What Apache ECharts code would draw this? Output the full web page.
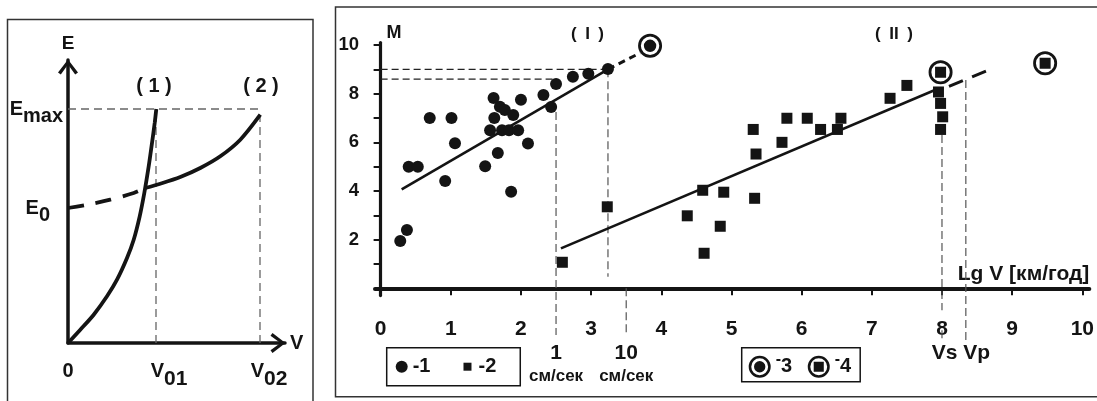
<!DOCTYPE html>
<html><head><meta charset="utf-8">
<script src="https://cdn.jsdelivr.net/npm/echarts@6/dist/echarts.min.js"></script>
<style>html,body{margin:0;padding:0;background:#fff}#c{width:1097px;height:401px}</style>
</head><body><div id="c"></div>
<script>
// ---------- Left panel: schematic E(V) ----------
const leftTickX = [0, 88, 192];            // 0, V01, V02
const leftTickY = [135, 234];              // E0, Emax
const curve1 = [[0,0],[12.3,13.3],[25.7,28.3],[39,46.7],[49,63.3],[59,85],[65.7,103.3],[71.7,126.7],[76.3,150],[80.7,176.7],[84,200],[86.7,220],[88.3,234]];
const curve2Dashed = [[0,135],[19,138.3],[42.3,143.3],[65.7,150],[77.3,155]];
const curve2Solid = [[77.3,155],[92.3,159.3],[112.3,166],[132.3,175],[152.3,186.7],[172.3,203.3],[192.3,228.3]];
const leftGuides = [[[0,234],[192,234]], [[88,0],[88,234]], [[192,0],[192,228]]];

// ---------- Right panel: M vs Lg V ----------
const xTicks = [0,1,2,3,4,5,6,7,8,9,10];
const yTicks = [1,2,3,4,5,6,7,8,9,10];
const yTickLabels = [2,4,6,8,10];
const unitMarks = [2.5, 3.5, 8.0];         // 1 см/сек, 10 см/сек, Vs Vp
const circles = [[0.28,1.94],[0.375,2.40],[0.40,5.0],[0.53,5.0],[0.70,7.0],[0.92,4.41],[1.01,7.0],[1.06,5.96],[1.49,5.02],[1.56,6.5],[1.61,7.82],[1.62,7.0],[1.67,5.56],[1.70,7.46],[1.77,7.33],[1.73,6.5],[1.83,6.5],[1.96,6.5],[1.86,3.97],[1.89,7.12],[2.0,7.75],[2.10,5.95],[2.32,7.95],[2.43,7.45],[2.50,8.40],[2.74,8.70],[2.96,8.82],[3.24,9.01]];
const squares = [[2.59,1.07],[3.23,3.35],[4.37,2.98],[4.59,4.03],[4.61,1.44],[4.84,2.55],[4.89,3.95],[5.31,6.53],[5.33,3.70],[5.35,5.52],[5.72,6.0],[5.79,6.99],[6.08,6.99],[6.27,6.53],[6.51,6.53],[6.56,6.99],[7.26,7.81],[7.50,8.34],[7.95,8.07],[7.98,7.6],[8.01,7.05],[7.98,6.53]];
const ringDot = [[3.84,9.97]];
const ringSquare = [[7.98,8.88],[9.47,9.25]];
const trendI = [[0.30,4.07],[3.24,9.0]];
const trendIExt = [[3.24,9.0],[3.70,9.68]];
const trendII = [[2.57,1.64],[7.90,8.15]];
const trendIIExt = [[8.10,8.30],[8.72,9.04]];
const guidesH = [[[0,9.0],[3.24,9.0]], [[0,8.6],[2.45,8.6]]];
const guidesV = [[[3.24,9.0],[3.24,0.48]], [[2.5,7.25],[2.5,-1.92]], [[3.5,0],[3.5,-1.92]], [[8.0,6.3],[8.0,-0.9]], [[8.0,-1.72],[8.0,-2.12]], [[8.34,8.56],[8.34,-2.12]]];

const INK = '#141414';
const FONT = '"Liberation Sans", Arial, sans-serif';
const B = {fontFamily: FONT, fontWeight: 'bold', color: INK};
const ARROW = 'path://M0,13 L10,0 L20,13 L17.2,15 L10,5 L2.8,15 Z';
const RING_DOT = 'path://M12,0 A12,12 0 1,1 12,24 A12,12 0 1,1 12,0 Z M12,2.8 A9.2,9.2 0 1,0 12,21.2 A9.2,9.2 0 1,0 12,2.8 Z M12,5.8 A6.2,6.2 0 1,1 12,18.2 A6.2,6.2 0 1,1 12,5.8 Z';
const RING_SQ = 'path://M12,0 A12,12 0 1,1 12,24 A12,12 0 1,1 12,0 Z M12,2.8 A9.2,9.2 0 1,0 12,21.2 A9.2,9.2 0 1,0 12,2.8 Z M6.5,6.5 L17.5,6.5 L17.5,17.5 L6.5,17.5 Z';
const SMALL_SQ = 'path://M0,0 M12,12 M2,2 L10,2 L10,10 L2,10 Z';
const MARK = {color: INK, opacity: 1};

function line(data, xi, yi, style, z, extra) {
  return Object.assign({type: 'line', xAxisIndex: xi, yAxisIndex: yi, data: data, symbol: 'none',
    lineStyle: style, z: z, silent: true, clip: false, animation: false}, extra || {});
}

const series = [];
leftGuides.forEach(g => series.push(line(g, 0, 0, {color: '#666', width: 1.3, type: [8, 5]}, 1)));
series.push(line(curve1, 0, 0, {color: INK, width: 3.8}, 3, {smooth: 0.3}));
series.push(line(curve2Dashed, 0, 0, {color: INK, width: 3.8, type: [16, 12]}, 3, {smooth: 0.3}));
series.push(line(curve2Solid, 0, 0, {color: INK, width: 3.8}, 3, {smooth: 0.3}));

guidesH.forEach(g => series.push(line(g, 1, 1, {color: '#222', width: 1.1, type: [7, 4]}, 1)));
guidesV.forEach(g => series.push(line(g, 1, 1, {color: '#555', width: 1.2, type: [8, 4]}, 1)));
series.push(line(trendI, 1, 1, {color: INK, width: 2.6}, 2));
series.push(line(trendIExt, 1, 1, {color: INK, width: 3, type: [7, 5]}, 2));
series.push(line(trendII, 1, 1, {color: INK, width: 2.6}, 2));
series.push(line(trendIIExt, 1, 1, {color: INK, width: 3, type: [15, 10]}, 2));

series.push({name: '1', type: 'scatter', xAxisIndex: 1, yAxisIndex: 1, data: circles, symbol: 'circle', symbolSize: 12, itemStyle: MARK, z: 5, silent: true});
series.push({name: '2', type: 'scatter', xAxisIndex: 1, yAxisIndex: 1, data: squares, symbol: 'rect', symbolSize: 11, itemStyle: MARK, z: 5, silent: true});
series.push({name: '3', type: 'scatter', xAxisIndex: 1, yAxisIndex: 1, data: ringDot, symbol: RING_DOT, symbolSize: 24, itemStyle: MARK, z: 5, silent: true});
series.push({name: '4', type: 'scatter', xAxisIndex: 1, yAxisIndex: 1, data: ringSquare, symbol: RING_SQ, symbolSize: 24, itemStyle: MARK, z: 5, silent: true});

function tok(size, pad, extra) { return Object.assign({fontSize: size, fontFamily: FONT, fontWeight: 'bold', color: INK, padding: pad || 0}, extra || {}); }

const option = {
  animation: false,
  backgroundColor: '#fff',
  textStyle: {fontFamily: FONT, fontWeight: 'bold', color: INK},
  grid: [
    {left: 68, top: 60, width: 217, height: 283},
    {left: 375, top: 42.6, width: 723.1, height: 253}
  ],
  xAxis: [
    {gridIndex: 0, type: 'value', min: 0, max: 217, splitLine: {show: false},
     axisLine: {show: true, lineStyle: {color: INK, width: 3.5}, symbol: ['none', ARROW], symbolSize: [20, 16], symbolOffset: [0, -7]},
     axisTick: {show: false},
     axisLabel: {customValues: leftTickX, margin: 10,
       formatter: v => v === leftTickX[0] ? '{n|0}' : (v === leftTickX[1] ? '{v1|V}{s|01}' : '{v2|V}{s|02}'),
       rich: {n: tok(20, [8, 0, 8, 0]), v1: tok(20, [0, 0, 0, 26]), v2: tok(20, [0, 0, 0, 18]), s: tok(21, [16, 0, 0, 0])}},
     name: 'V', nameGap: 5, nameTextStyle: Object.assign({fontSize: 20, padding: [0, 0, 6, 0]}, B)},
    {gridIndex: 1, type: 'value', min: -0.08, max: 10.1, splitLine: {show: false},
     axisLine: {show: true, onZero: true, lineStyle: {color: INK, width: 4}},
     axisTick: {show: true, customValues: xTicks, length: 7, lineStyle: {color: INK, width: 2}},
     axisLabel: Object.assign({customValues: xTicks, margin: 23, fontSize: 21}, B),
     name: 'Lg V [км/год]', nameLocation: 'end', nameGap: 0,
     nameTextStyle: Object.assign({fontSize: 21, align: 'right', verticalAlign: 'bottom', padding: [0, 0, 4, 0]}, B)},
    {gridIndex: 1, type: 'value', min: -0.08, max: 10.1, position: 'bottom', splitLine: {show: false},
     axisLine: {show: false, onZero: false}, axisTick: {show: false},
     axisLabel: {customValues: unitMarks, margin: 47,
       formatter: v => v === unitMarks[0] ? '{n|1}\n{u|см/сек}' : (v === unitMarks[1] ? '{n|10}\n{u|см/сек}' : '{vs|Vs Vp}'),
       rich: {n: tok(21, 0, {lineHeight: 22}), u: tok(17, 0, {lineHeight: 23}), vs: tok(21, [0, 0, 0, 38], {lineHeight: 22})}}}
  ],
  yAxis: [
    {gridIndex: 0, type: 'value', min: 0, max: 283, splitLine: {show: false},
     axisLine: {show: true, lineStyle: {color: INK, width: 3.5}, symbol: ['none', ARROW], symbolSize: [20, 16], symbolOffset: [0, -7]},
     axisTick: {show: false},
     axisLabel: {customValues: leftTickY, margin: 5,
       formatter: v => v === leftTickY[1] ? '{e|E}{s|max}' : '{e|E}{s0|0}',
       rich: {e: tok(20), s: tok(20, [14, 0, 0, 0]), s0: tok(20, [14, 13, 0, 0])}},
     name: 'E', nameGap: 7, nameTextStyle: Object.assign({fontSize: 19}, B)},
    {gridIndex: 1, type: 'value', min: -0.3, max: 10.1, splitLine: {show: false},
     axisLine: {show: true, onZero: true, lineStyle: {color: INK, width: 3.2}},
     axisTick: {show: true, customValues: yTicks, length: 7, lineStyle: {color: INK, width: 2}},
     axisLabel: Object.assign({customValues: yTickLabels, margin: 16, fontSize: 18.5}, B),
     name: 'M', nameLocation: 'end', nameGap: 1,
     nameTextStyle: Object.assign({fontSize: 18, align: 'left', verticalAlign: 'bottom', padding: [0, 0, 0, 6]}, B)}
  ],
  legend: [
    {left: 386.7, top: 347.7, orient: 'horizontal', selectedMode: false,
     data: [{name: '1', icon: 'circle'}, {name: '2', icon: SMALL_SQ}],
     itemWidth: 12, itemHeight: 12, itemGap: 31, itemTextGap: 3, padding: [9, 24, 9, 9],
     borderColor: INK, borderWidth: 1.5, formatter: n => '-' + n,
     textStyle: {fontSize: 20, fontWeight: 'bold', fontFamily: FONT, color: INK}},
    {left: 741.7, top: 347.7, orient: 'horizontal', selectedMode: false,
     data: [{name: '3', icon: RING_DOT}, {name: '4', icon: RING_SQ}],
     itemWidth: 22, itemHeight: 22, itemGap: 15.6, itemTextGap: 10, padding: [4, 9, 4, 7],
     borderColor: INK, borderWidth: 1.5, formatter: n => '{d|-}{t|' + n + '}',
     textStyle: {fontSize: 20, fontWeight: 'bold', fontFamily: FONT, color: INK,
       rich: {d: tok(16, [0, 0, 14, 0]), t: tok(20)}}}
  ],
  graphic: [
    {type: 'rect', silent: true, z: -1, shape: {x: 7.5, y: 19.5, width: 305.5, height: 420}, style: {fill: 'none', stroke: '#333', lineWidth: 1.5}},
    {type: 'rect', silent: true, z: -1, shape: {x: 335.5, y: 7, width: 800, height: 389.7}, style: {fill: 'none', stroke: '#333', lineWidth: 1.5}},
    {type: 'text', silent: true, x: 154, y: 86.5, style: {text: '( 1 )', font: 'bold 20px ' + FONT, fill: INK, align: 'center', verticalAlign: 'middle'}},
    {type: 'text', silent: true, x: 261, y: 86.5, style: {text: '( 2 )', font: 'bold 20px ' + FONT, fill: INK, align: 'center', verticalAlign: 'middle'}},
    {type: 'text', silent: true, x: 587.5, y: 34.7, style: {text: '(\u2002I\u2002)', font: 'bold 17px ' + FONT, fill: INK, align: 'center', verticalAlign: 'middle'}},
    {type: 'text', silent: true, x: 894, y: 34, style: {text: '(\u2002II\u2002)', font: 'bold 17px ' + FONT, fill: INK, align: 'center', verticalAlign: 'middle'}}
  ],
  series: series
};
const chart = echarts.init(document.getElementById('c'), null, {renderer: 'canvas'});
chart.setOption(option);
</script></body></html>
